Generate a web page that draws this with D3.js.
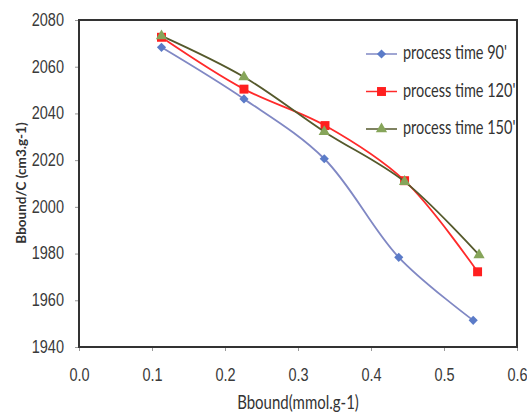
<!DOCTYPE html>
<html><head><meta charset="utf-8">
<script src="https://cdn.jsdelivr.net/npm/d3@7"></script>
<style>body{margin:0;background:#fff}svg{display:block;font-family:Lato,"Open Sans",sans-serif}</style>
</head><body><svg id="c" width="527" height="415"></svg>
<script>
const seriesNames = ["process time 90'", "process time 120'", "process time 150'"];
const x90 = [0.113, 0.226, 0.336, 0.438, 0.540];
const y90 = [2068.3, 2046.2, 2020.6, 1978.4, 1951.4];
const x120 = [0.113, 0.226, 0.337, 0.446, 0.546];
const y120 = [2072.6, 2050.4, 2034.8, 2011.2, 1972.2];
const x150 = [0.113, 0.226, 0.336, 0.446, 0.548];
const y150 = [2073.2, 2055.6, 2032.2, 2010.8, 1979.4];
const xTicks = [0, 0.1, 0.2, 0.3, 0.4, 0.5, 0.6];
const yTicks = [1940, 1960, 1980, 2000, 2020, 2040, 2060, 2080];

const svg = d3.select("#c");
const L = 79, R = 517, T = 20, B = 347;
const SY = 1.28; // vertical stretch of the source figure's text
const x = d3.scaleLinear().domain([0, 0.6]).range([L, R]);
const y = d3.scaleLinear().domain([1940, 2080]).range([B, T]);

// axes
const gx = svg.append("g").attr("transform", `translate(0,${B})`)
  .call(d3.axisBottom(x).tickValues(xTicks).tickFormat(d3.format(".1f")).tickSize(4));
const gy = svg.append("g").attr("transform", `translate(${L},0)`)
  .call(d3.axisLeft(y).tickValues(yTicks).tickSize(4).tickFormat(d3.format("d")));
[gx, gy].forEach(g => {
  g.select(".domain").remove();
  g.selectAll(".tick line").attr("stroke", "#999");
  g.selectAll("text").attr("fill", "#3a3a3a").style("font-size", "14.5px");
});
gx.selectAll("text").attr("y", null).attr("dy", null).attr("transform", `translate(0,34) scale(1,${SY})`);
gy.selectAll("text").attr("x", null).attr("dy", null).attr("text-anchor", "end")
  .attr("transform", `translate(-15,5.3) scale(1,${SY})`);

// frame
svg.append("rect").attr("x", L).attr("y", T).attr("width", R - L).attr("height", B - T)
  .attr("fill", "none").attr("stroke", "#333").attr("stroke-width", 2);

const data = [
  {name: seriesNames[0], xs: x90, ys: y90, line: "#8088c4", fill: "#5b7bc8", sym: d3.symbolSquare, size: 42, rot: 45},
  {name: seriesNames[1], xs: x120, ys: y120, line: "#ff2a2a", fill: "#ff1f1f", sym: d3.symbolSquare, size: 80, rot: 0},
  {name: seriesNames[2], xs: x150, ys: y150, line: "#55592c", fill: "#86a55a", sym: d3.symbolTriangle, size: 55, rot: 0}
];

const line = d3.line().x(d => x(d[0])).y(d => y(d[1])).curve(d3.curveCatmullRom.alpha(0.5));
data.forEach(s => {
  const pts = s.xs.map((v, i) => [v, s.ys[i]]);
  svg.append("path").datum(pts).attr("d", line).attr("fill", "none")
    .attr("stroke", s.line).attr("stroke-width", 1.8);
  svg.selectAll(null).data(pts).enter().append("path")
    .attr("d", d3.symbol().type(s.sym).size(s.size))
    .attr("transform", d => `translate(${x(d[0])},${y(d[1])}) rotate(${s.rot})`)
    .attr("fill", s.fill);
});

// legend
const lg = svg.append("g");
data.forEach((s, i) => {
  const yy = 54 + i * 37.5;
  lg.append("line").attr("x1", 366).attr("x2", 397).attr("y1", yy).attr("y2", yy)
    .attr("stroke", s.line).attr("stroke-width", 1.5);
  lg.append("path").attr("d", d3.symbol().type(s.sym).size(s.size))
    .attr("transform", `translate(381.5,${yy}) rotate(${s.rot})`).attr("fill", s.fill);
  lg.append("text").attr("transform", `translate(403,${yy + 5}) scale(1,${SY})`).text(s.name)
    .attr("fill", "#333").style("font-size", "14.5px");
});

// axis titles
svg.append("text").attr("transform", `translate(298,409) scale(1,${SY})`).attr("text-anchor", "middle")
  .attr("fill", "#333").style("font-size", "15px").text("Bbound(mmol.g-1)");
svg.append("text").attr("transform", "translate(26,183) rotate(-90)").attr("text-anchor", "middle")
  .attr("fill", "#333").style("font-size", "13.5px")
  .style("font-weight", "bold").text("Bbound/C (cm3.g-1)");
</script></body></html>
